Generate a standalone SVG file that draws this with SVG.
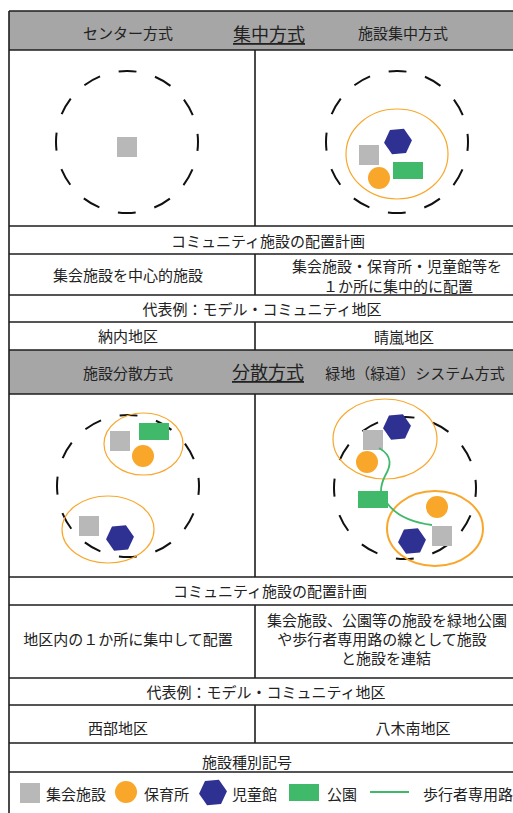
<svg xmlns="http://www.w3.org/2000/svg" width="513" height="813" viewBox="0 0 513 813">
<style>
.grid{stroke:#1e1e1e;stroke-width:1.6;fill:none}
.hdr{fill:#a6a6a6}
.t{font-family:"Noto Sans CJK JP","Noto Sans CJK SC",sans-serif;font-size:15px;fill:#222;text-anchor:middle;dominant-baseline:central}
.tl{font-family:"Noto Sans CJK JP","Noto Sans CJK SC",sans-serif;font-size:15px;fill:#222;dominant-baseline:central}
.big{font-size:18px;text-decoration:underline}
.dash{fill:none;stroke:#111;stroke-width:2;stroke-dasharray:18 19.176;stroke-dashoffset:9}
.zone{fill:none;stroke:#f9a72b;stroke-width:1.2}
.zone2{fill:none;stroke:#f9a72b;stroke-width:2}
.hall{fill:#b8b8b8}
.nursery{fill:#f9a72b}
.kids{fill:#2e3192}
.park{fill:#41b96b}
.path{fill:none;stroke:#41b96b;stroke-width:1.8}
</style>
<defs>
<polygon id="hex" points="14,0 7,12.1 -7,12.1 -14,0 -7,-12.1 7,-12.1" transform="rotate(-5)"/>
</defs>
<rect width="513" height="813" fill="#fff"/>
<g id="table">
<rect class="hdr" x="9" y="11" width="504" height="39"/>
<rect class="hdr" x="9" y="350" width="504" height="44"/>
<g class="grid">
<path d="M9,11H513M9,50H513M9,226H513M9,254H513M9,295H513M9,322H513M9,350H513M9,394H513M9,577H513M9,605H513M9,678H513M9,705H513M9,743H513M9,772H513"/>
<path d="M9,11V813M255,50V226M255,254V295M255,322V350M255,394V577M255,605V678M255,705V743"/>
</g>
</g>
<g id="header-top">
<text class="t" x="128" y="32">センター方式</text>
<text class="t big" x="269" y="33">集中方式</text>
<text class="t" x="403" y="32">施設集中方式</text>
</g>
<g id="center-method">
<circle class="dash" cx="127" cy="142" r="71"/>
<rect class="hall" x="117" y="137" width="20" height="20"/>
</g>
<g id="concentrated-method">
<circle class="dash" cx="397" cy="142" r="71"/>
<ellipse class="zone" cx="397" cy="154" rx="51" ry="45"/>
<use href="#hex" class="kids" transform="translate(398,141.5)"/>
<rect class="hall" x="359" y="145" width="20" height="20"/>
<circle class="nursery" cx="379" cy="178" r="11"/>
<rect class="park" x="393" y="162" width="30" height="17"/>
</g>
<g id="rows-top">
<text class="t" x="268" y="240">コミュニティ施設の配置計画</text>
<text class="t" x="128" y="274">集会施設を中心的施設</text>
<text class="t" y="265"><tspan x="397">集会施設・保育所・児童館等を</tspan><tspan x="398" dy="19.5">１か所に集中的に配置</tspan></text>
<text class="t" x="262" y="308">代表例：モデル・コミュニティ地区</text>
<text class="t" x="128" y="335">納内地区</text>
<text class="t" x="404" y="336">晴嵐地区</text>
</g>
<g id="header-bottom">
<text class="t" x="128" y="372">施設分散方式</text>
<text class="t big" x="268" y="371">分散方式</text>
<text class="t" x="415" y="372">緑地（緑道）システム方式</text>
</g>
<g id="dispersed-method">
<circle class="dash" cx="128" cy="486" r="71"/>
<ellipse class="zone" cx="143.5" cy="444" rx="39.5" ry="31"/>
<rect class="hall" x="110" y="431" width="20" height="20"/>
<rect class="park" x="139" y="423" width="30" height="17"/>
<circle class="nursery" cx="143" cy="456" r="11"/>
<ellipse class="zone" cx="108" cy="529.5" rx="46" ry="33.5"/>
<rect class="hall" x="79" y="516" width="20" height="20"/>
<use href="#hex" class="kids" transform="translate(120,538)"/>
</g>
<g id="greenway-method">
<circle class="dash" cx="405" cy="488" r="71"/>
<ellipse class="zone" cx="385" cy="439" rx="52" ry="40"/>
<use href="#hex" class="kids" transform="translate(397,427)"/>
<rect class="hall" x="363" y="430" width="20" height="20"/>
<circle class="nursery" cx="367" cy="462" r="11"/>
<rect class="park" x="358" y="491" width="30" height="17"/>
<ellipse class="zone2" cx="435" cy="528.5" rx="48" ry="37.5"/>
<circle class="nursery" cx="437" cy="507" r="11"/>
<rect class="hall" x="432" y="526" width="20" height="20"/>
<use href="#hex" class="kids" transform="translate(412,541)"/>
</g>
<g id="connectors">
<path class="path" d="M379,448 C393,456 391,466 385,476 C381,484 381,487 381,491"/>
<path class="path" d="M387,503 Q400,521 432,525"/>
</g>
<g id="rows-bottom">
<text class="t" x="270" y="590">コミュニティ施設の配置計画</text>
<text class="t" x="128" y="638">地区内の１か所に集中して配置</text>
<text class="t" y="619"><tspan x="387">集会施設、公園等の施設を緑地公園</tspan><tspan x="382" dy="19">や歩行者専用路の線として施設</tspan><tspan x="386" dy="19">と施設を連結</tspan></text>
<text class="t" x="266" y="691">代表例：モデル・コミュニティ地区</text>
<text class="t" x="118" y="727">西部地区</text>
<text class="t" x="413" y="727">八木南地区</text>
</g>
<g id="legend">
<text class="t" x="247" y="761">施設種別記号</text>
<rect class="hall" x="20" y="783" width="20" height="20"/>
<text class="tl" x="46" y="793">集会施設</text>
<circle class="nursery" cx="126" cy="792" r="11"/>
<text class="tl" x="144" y="793">保育所</text>
<use href="#hex" class="kids" transform="translate(213,792.5)"/>
<text class="tl" x="232" y="793">児童館</text>
<rect class="park" x="289" y="784" width="30" height="17"/>
<text class="tl" x="327" y="793">公園</text>
<path class="path" d="M370,792H409"/>
<text class="tl" x="423" y="793">歩行者専用路</text>
</g>
</svg>
